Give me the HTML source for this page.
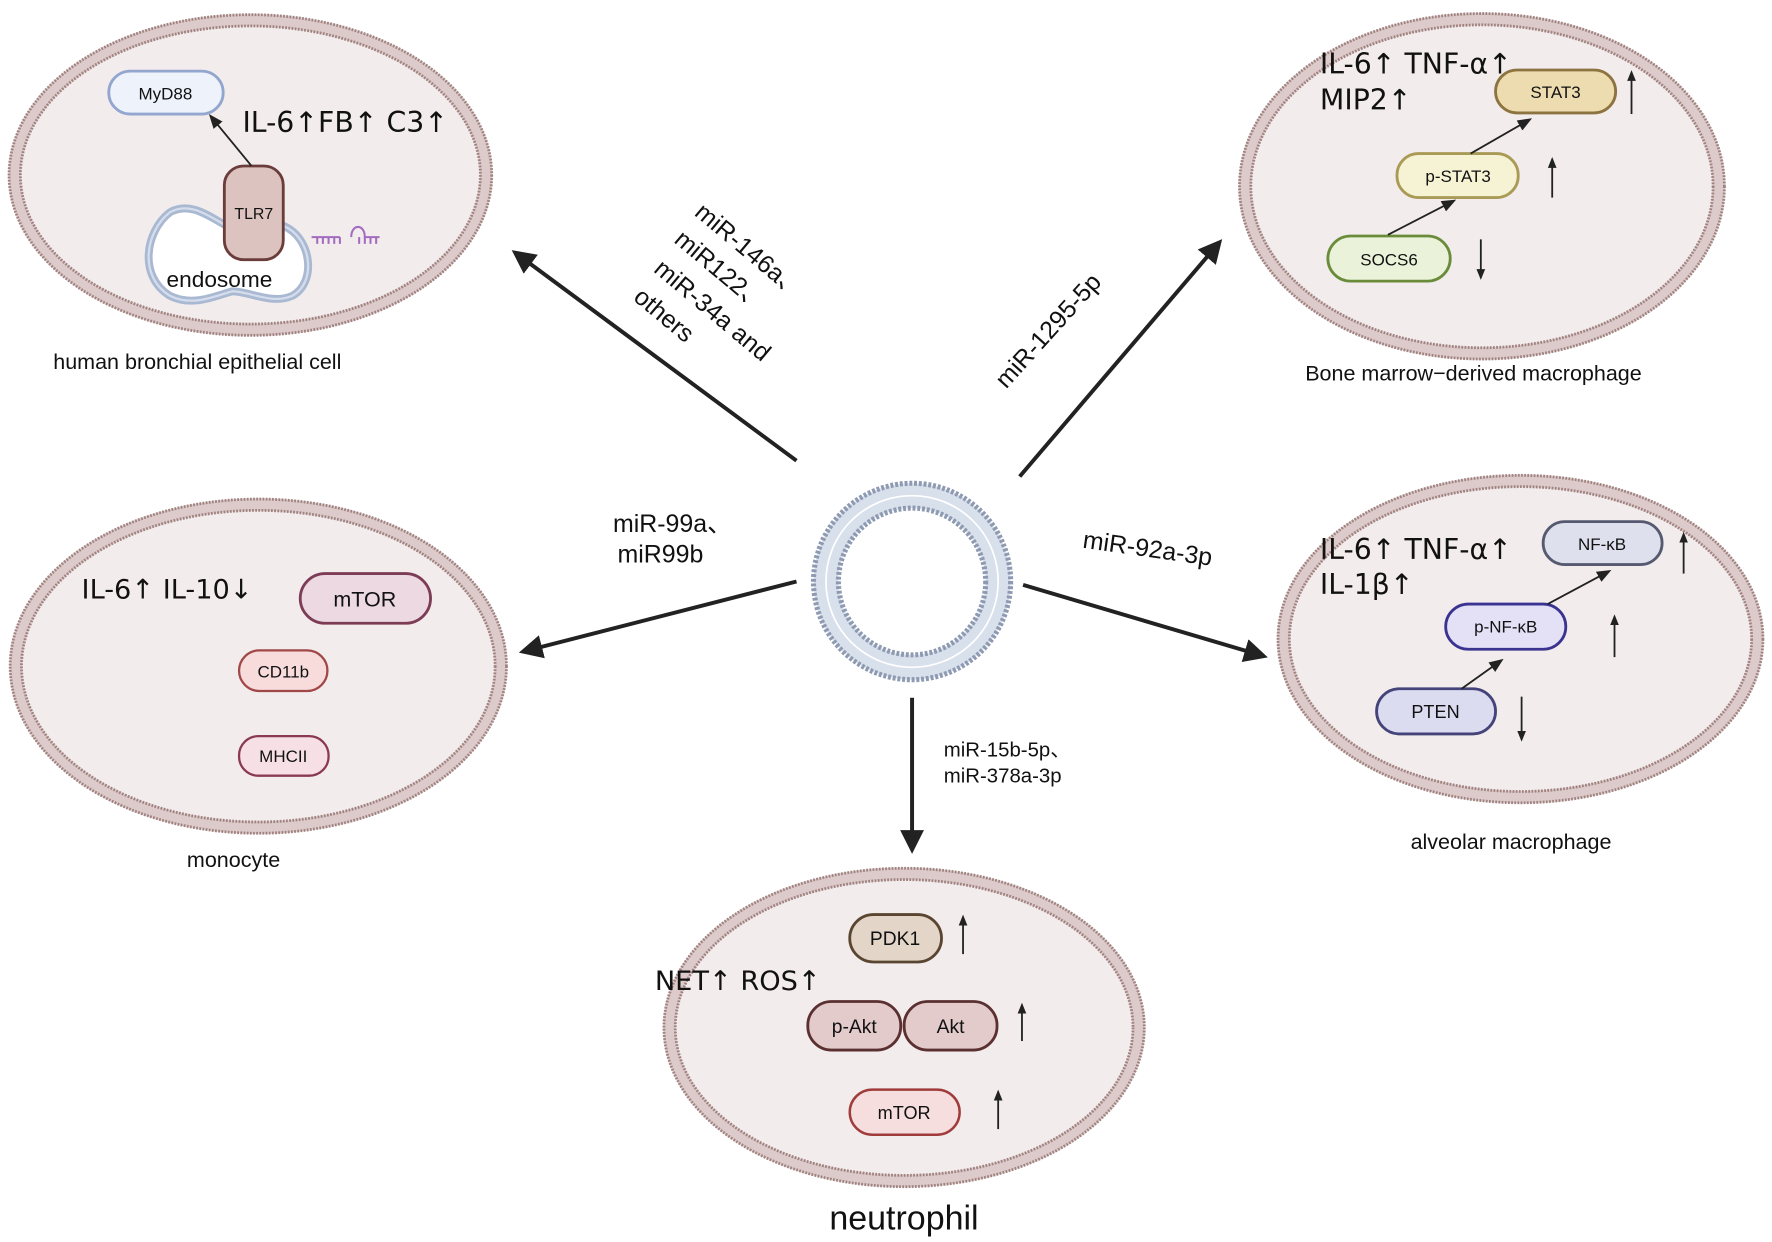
<!DOCTYPE html>
<html><head><meta charset="utf-8">
<style>
html,body{margin:0;padding:0;background:#fff;}
svg{display:block;}
text{font-family:"Liberation Sans","DejaVu Sans",sans-serif;fill:#111;}
.a{font-family:"DejaVu Sans","Liberation Sans",sans-serif;}
</style></head>
<body>
<svg width="1772" height="1242" viewBox="0 0 1564 1100" preserveAspectRatio="none" xmlns="http://www.w3.org/2000/svg">
<defs>
<marker id="big" viewBox="0 0 10 10" refX="8" refY="5" markerWidth="6" markerHeight="6" orient="auto-start-reverse" markerUnits="strokeWidth"><path d="M0,0 L10,5 L0,10 z" fill="#222"/></marker>
<marker id="sm" viewBox="0 0 10 10" refX="8" refY="5" markerWidth="8" markerHeight="8" orient="auto" markerUnits="strokeWidth"><path d="M0,1 L10,5 L0,9 z" fill="#222"/></marker>
<marker id="tiny" viewBox="0 0 10 10" refX="8" refY="5" markerWidth="6" markerHeight="6" orient="auto" markerUnits="strokeWidth"><path d="M0,1 L10,5 L0,9 z" fill="#222"/></marker>
</defs>

<g id="cells">
<ellipse cx="221" cy="155" rx="214" ry="143" fill="#f3ecec"/>
<ellipse cx="221" cy="155" rx="208" ry="137" fill="none" stroke="#dccbca" stroke-width="11"/>
<ellipse cx="221" cy="155" rx="213" ry="142" fill="none" stroke="#a08381" stroke-width="2.5" stroke-dasharray="1.6 1.2"/>
<ellipse cx="221" cy="155" rx="203" ry="132" fill="none" stroke="#a08381" stroke-width="2.5" stroke-dasharray="1.6 1.2"/>

<ellipse cx="1308" cy="165" rx="215" ry="154" fill="#f3ecec"/>
<ellipse cx="1308" cy="165" rx="209" ry="148" fill="none" stroke="#dccbca" stroke-width="11"/>
<ellipse cx="1308" cy="165" rx="214" ry="153" fill="none" stroke="#a08381" stroke-width="2.5" stroke-dasharray="1.6 1.2"/>
<ellipse cx="1308" cy="165" rx="204" ry="143" fill="none" stroke="#a08381" stroke-width="2.5" stroke-dasharray="1.6 1.2"/>

<ellipse cx="228" cy="590" rx="220" ry="149" fill="#f3ecec"/>
<ellipse cx="228" cy="590" rx="214" ry="143" fill="none" stroke="#dccbca" stroke-width="11"/>
<ellipse cx="228" cy="590" rx="219" ry="148" fill="none" stroke="#a08381" stroke-width="2.5" stroke-dasharray="1.6 1.2"/>
<ellipse cx="228" cy="590" rx="209" ry="138" fill="none" stroke="#a08381" stroke-width="2.5" stroke-dasharray="1.6 1.2"/>

<ellipse cx="1342" cy="566" rx="215" ry="146" fill="#f3ecec"/>
<ellipse cx="1342" cy="566" rx="209" ry="140" fill="none" stroke="#dccbca" stroke-width="11"/>
<ellipse cx="1342" cy="566" rx="214" ry="145" fill="none" stroke="#a08381" stroke-width="2.5" stroke-dasharray="1.6 1.2"/>
<ellipse cx="1342" cy="566" rx="204" ry="135" fill="none" stroke="#a08381" stroke-width="2.5" stroke-dasharray="1.6 1.2"/>

<ellipse cx="798" cy="910" rx="213" ry="142" fill="#f3ecec"/>
<ellipse cx="798" cy="910" rx="207" ry="136" fill="none" stroke="#dccbca" stroke-width="11"/>
<ellipse cx="798" cy="910" rx="212" ry="141" fill="none" stroke="#a08381" stroke-width="2.5" stroke-dasharray="1.6 1.2"/>
<ellipse cx="798" cy="910" rx="202" ry="131" fill="none" stroke="#a08381" stroke-width="2.5" stroke-dasharray="1.6 1.2"/>
</g>

<!-- vesicle -->
<circle cx="805" cy="515" r="76" fill="none" stroke="#d8e0ec" stroke-width="22"/>
<circle cx="805" cy="515" r="87" fill="none" stroke="#8e9ab2" stroke-width="4.5" stroke-dasharray="2.6 1.6"/>
<circle cx="805" cy="515" r="65" fill="none" stroke="#8e9ab2" stroke-width="4.5" stroke-dasharray="2.6 1.6"/>
<circle cx="805" cy="515" r="76" fill="none" stroke="#fff" stroke-width="1.5"/>

<g stroke="#222" stroke-width="3.5" fill="none">
<line x1="703" y1="408" x2="455" y2="224" marker-end="url(#big)"/>
<line x1="900" y1="422" x2="1076" y2="215" marker-end="url(#big)"/>
<line x1="703" y1="515" x2="462" y2="577" marker-end="url(#big)"/>
<line x1="903" y1="518" x2="1115" y2="581" marker-end="url(#big)"/>
<line x1="805" y1="618" x2="805" y2="752" marker-end="url(#big)"/>
</g>

<g font-size="22">
<text transform="translate(612,190) rotate(40)">miR-146a、</text>
<text transform="translate(594,214) rotate(40)">miR122、</text>
<text transform="translate(576,240) rotate(40)">miR-34a and</text>
<text transform="translate(558,265) rotate(40)">others</text>
<text transform="translate(888,345) rotate(-48)">miR-1295-5p</text>
<text x="541" y="471">miR-99a、</text>
<text x="545" y="498">miR99b</text>
<text transform="translate(955,485) rotate(8)">miR-92a-3p</text>
</g>
<g font-size="18">
<text x="833" y="670">miR-15b-5p、</text>
<text x="833" y="693">miR-378a-3p</text>
</g>

<!-- cell 1 -->
<path d="M150,188 C128,205 122,245 150,262 C170,272 190,262 205,258 C220,258 240,270 258,262 C280,250 275,210 250,200 C230,192 215,205 200,200 C185,192 168,178 150,188 Z" fill="#fff" stroke="#a9b9d2" stroke-width="7"/>
<path d="M150,188 C128,205 122,245 150,262 C170,272 190,262 205,258 C220,258 240,270 258,262 C280,250 275,210 250,200 C230,192 215,205 200,200 C185,192 168,178 150,188 Z" fill="none" stroke="#d5dded" stroke-width="2"/>
<rect x="96" y="63" width="101" height="38" rx="19" fill="#eef2fb" stroke="#93a6cf" stroke-width="2.5"/>
<text x="146" y="88" font-size="15" text-anchor="middle">MyD88</text>
<rect x="198" y="147" width="52" height="83" rx="17" fill="#dcc3c0" stroke="#6b3d3a" stroke-width="2.5"/>
<text x="224" y="194" font-size="14" text-anchor="middle">TLR7</text>
<line x1="222" y1="147" x2="186" y2="103" stroke="#222" stroke-width="1.6" marker-end="url(#sm)"/>
<text x="214" y="117" font-size="25" class="a">IL-6↑FB↑ C3↑</text>
<text x="147" y="254" font-size="20">endosome</text>
<g stroke="#a36cc0" stroke-width="1.8" fill="none">
<path d="M275,210 H300 M310,210 C310,198 322,198 322,210 H335"/>
<path d="M280,210 v6 M285,210 v6 M290,210 v6 M295,210 v6 M300,210 v6 M317,210 v6 M322,210 v6 M327,210 v6 M332,210 v6"/>
</g>
<text x="47" y="327" font-size="19">human bronchial epithelial cell</text>

<!-- cell 2 -->
<text x="1165" y="65" font-size="25" class="a">IL-6↑ TNF-α↑</text>
<text x="1165" y="97" font-size="25" class="a">MIP2↑</text>
<rect x="1320" y="62" width="106" height="38" rx="19" fill="#ecdcaf" stroke="#8c7340" stroke-width="2.5"/>
<text x="1373" y="87" font-size="15" text-anchor="middle">STAT3</text>
<rect x="1233" y="136" width="107" height="39" rx="19" fill="#f6f3d4" stroke="#a99a55" stroke-width="2.5"/>
<text x="1287" y="161" font-size="15" text-anchor="middle">p-STAT3</text>
<rect x="1172" y="209" width="108" height="40" rx="20" fill="#eaf3da" stroke="#6a8c3a" stroke-width="2.5"/>
<text x="1226" y="235" font-size="15" text-anchor="middle">SOCS6</text>
<g stroke="#222" stroke-width="1.6">
<line x1="1225" y1="208" x2="1283" y2="178" marker-end="url(#sm)"/>
<line x1="1298" y1="136" x2="1350" y2="106" marker-end="url(#sm)"/>
<line x1="1440" y1="101" x2="1440" y2="64" marker-end="url(#tiny)"/>
<line x1="1370" y1="175" x2="1370" y2="141" marker-end="url(#tiny)"/>
<line x1="1307" y1="212" x2="1307" y2="246" marker-end="url(#tiny)"/>
</g>
<text x="1152" y="337" font-size="19">Bone marrow−derived  macrophage</text>

<!-- cell 3 -->
<text x="72" y="530" font-size="24" class="a">IL-6↑ IL-10↓</text>
<rect x="265" y="508" width="115" height="44" rx="22" fill="#ecd9e2" stroke="#7d3c56" stroke-width="2.5"/>
<text x="322" y="537" font-size="19" text-anchor="middle">mTOR</text>
<rect x="211" y="576" width="78" height="36" rx="18" fill="#f8dcdc" stroke="#a04848" stroke-width="2"/>
<text x="250" y="600" font-size="15" text-anchor="middle">CD11b</text>
<rect x="211" y="652" width="79" height="35" rx="17" fill="#f6e0e6" stroke="#8a3a50" stroke-width="2"/>
<text x="250" y="675" font-size="15" text-anchor="middle">MHCII</text>
<text x="165" y="768" font-size="19">monocyte</text>

<!-- cell 4 -->
<text x="1165" y="495" font-size="25" class="a">IL-6↑ TNF-α↑</text>
<text x="1165" y="526" font-size="25" class="a">IL-1β↑</text>
<rect x="1362" y="462" width="105" height="38" rx="19" fill="#dfe0ee" stroke="#555a70" stroke-width="2.5"/>
<text x="1414" y="487" font-size="15" text-anchor="middle">NF-κB</text>
<rect x="1276" y="535" width="106" height="40" rx="20" fill="#e4e1f7" stroke="#3a3390" stroke-width="2.5"/>
<text x="1329" y="560" font-size="15" text-anchor="middle">p-NF-κB</text>
<rect x="1215" y="610" width="105" height="40" rx="20" fill="#dcdcf1" stroke="#44447a" stroke-width="2.5"/>
<text x="1267" y="636" font-size="16" text-anchor="middle">PTEN</text>
<g stroke="#222" stroke-width="1.6">
<line x1="1290" y1="610" x2="1325" y2="585" marker-end="url(#sm)"/>
<line x1="1366" y1="535" x2="1420" y2="506" marker-end="url(#sm)"/>
<line x1="1486" y1="508" x2="1486" y2="473" marker-end="url(#tiny)"/>
<line x1="1425" y1="582" x2="1425" y2="546" marker-end="url(#tiny)"/>
<line x1="1343" y1="617" x2="1343" y2="655" marker-end="url(#tiny)"/>
</g>
<text x="1245" y="752" font-size="19">alveolar macrophage</text>

<!-- cell 5 -->
<rect x="750" y="810" width="81" height="42" rx="21" fill="#e3d6c8" stroke="#5a4530" stroke-width="2.5"/>
<text x="790" y="837" font-size="17" text-anchor="middle">PDK1</text>
<text x="578" y="877" font-size="24" class="a">NET↑  ROS↑</text>
<rect x="713" y="887" width="82" height="43" rx="21" fill="#e3cacb" stroke="#5a3030" stroke-width="2.5"/>
<text x="754" y="915" font-size="17" text-anchor="middle">p-Akt</text>
<rect x="798" y="887" width="82" height="43" rx="21" fill="#e3cacb" stroke="#5a3030" stroke-width="2.5"/>
<text x="839" y="915" font-size="17" text-anchor="middle">Akt</text>
<rect x="750" y="965" width="97" height="40" rx="20" fill="#f6dede" stroke="#a03c3c" stroke-width="2.2"/>
<text x="798" y="991" font-size="16" text-anchor="middle">mTOR</text>
<g stroke="#222" stroke-width="1.6">
<line x1="850" y1="845" x2="850" y2="812" marker-end="url(#tiny)"/>
<line x1="902" y1="922" x2="902" y2="890" marker-end="url(#tiny)"/>
<line x1="881" y1="1000" x2="881" y2="967" marker-end="url(#tiny)"/>
</g>
<text x="732" y="1089" font-size="30">neutrophil</text>
</svg>
</body></html>
